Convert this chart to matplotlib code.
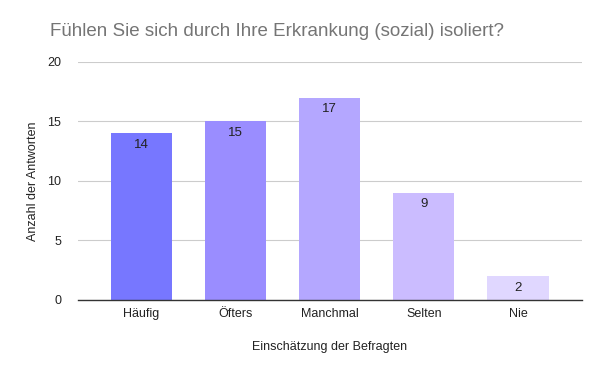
import matplotlib.pyplot as plt

plt.rcParams['font.family'] = ['Liberation Sans', 'DejaVu Sans']

categories = ['Häufig', 'Öfters', 'Manchmal', 'Selten', 'Nie']
counts = [14, 15, 17, 9, 2]
colors = ['#7777ff', '#9a8dff', '#b4a7ff', '#cbbcff', '#e0d7ff']

fig = plt.figure(figsize=(6, 3.71), dpi=100)
ax = fig.add_axes([0.13, 0.1914, 0.84, 0.6416])

x = range(len(categories))
bars = ax.bar(x, counts, width=0.65, color=colors, zorder=2)
for b, v in zip(bars, counts):
    ax.text(b.get_x() + b.get_width() / 2, v - 0.45, str(v), ha='center', va='top',
            fontsize=9.5, color='#222222', zorder=3)

ax.set_xlim(-0.67, 4.68)
ax.set_ylim(0, 20)
ax.set_yticks([0, 5, 10, 15, 20])
ax.set_xticks(list(x))
ax.set_xticklabels(categories)
ax.tick_params(axis='both', length=0, labelsize=9, colors='#222222')
ax.tick_params(axis='x', pad=6)
ax.tick_params(axis='y', pad=12)
ax.grid(axis='y', color='#cccccc', linewidth=0.8, zorder=0)
for s in ['top', 'right', 'left']:
    ax.spines[s].set_visible(False)
ax.spines['bottom'].set_color('#333333')
ax.spines['bottom'].set_linewidth(1)
ax.spines['bottom'].set_zorder(3)

ax.set_xlabel('Einschätzung der Befragten', fontsize=9, color='#222222', labelpad=15)
ax.set_ylabel('Anzahl der Antworten', fontsize=9, color='#222222', labelpad=6)

fig.text(0.083, 0.915, 'Fühlen Sie sich durch Ihre Erkrankung (sozial) isoliert?',
         fontsize=13.5, color='#757575', va='center', ha='left')

fig.savefig('out.png', dpi=100, facecolor='white')
